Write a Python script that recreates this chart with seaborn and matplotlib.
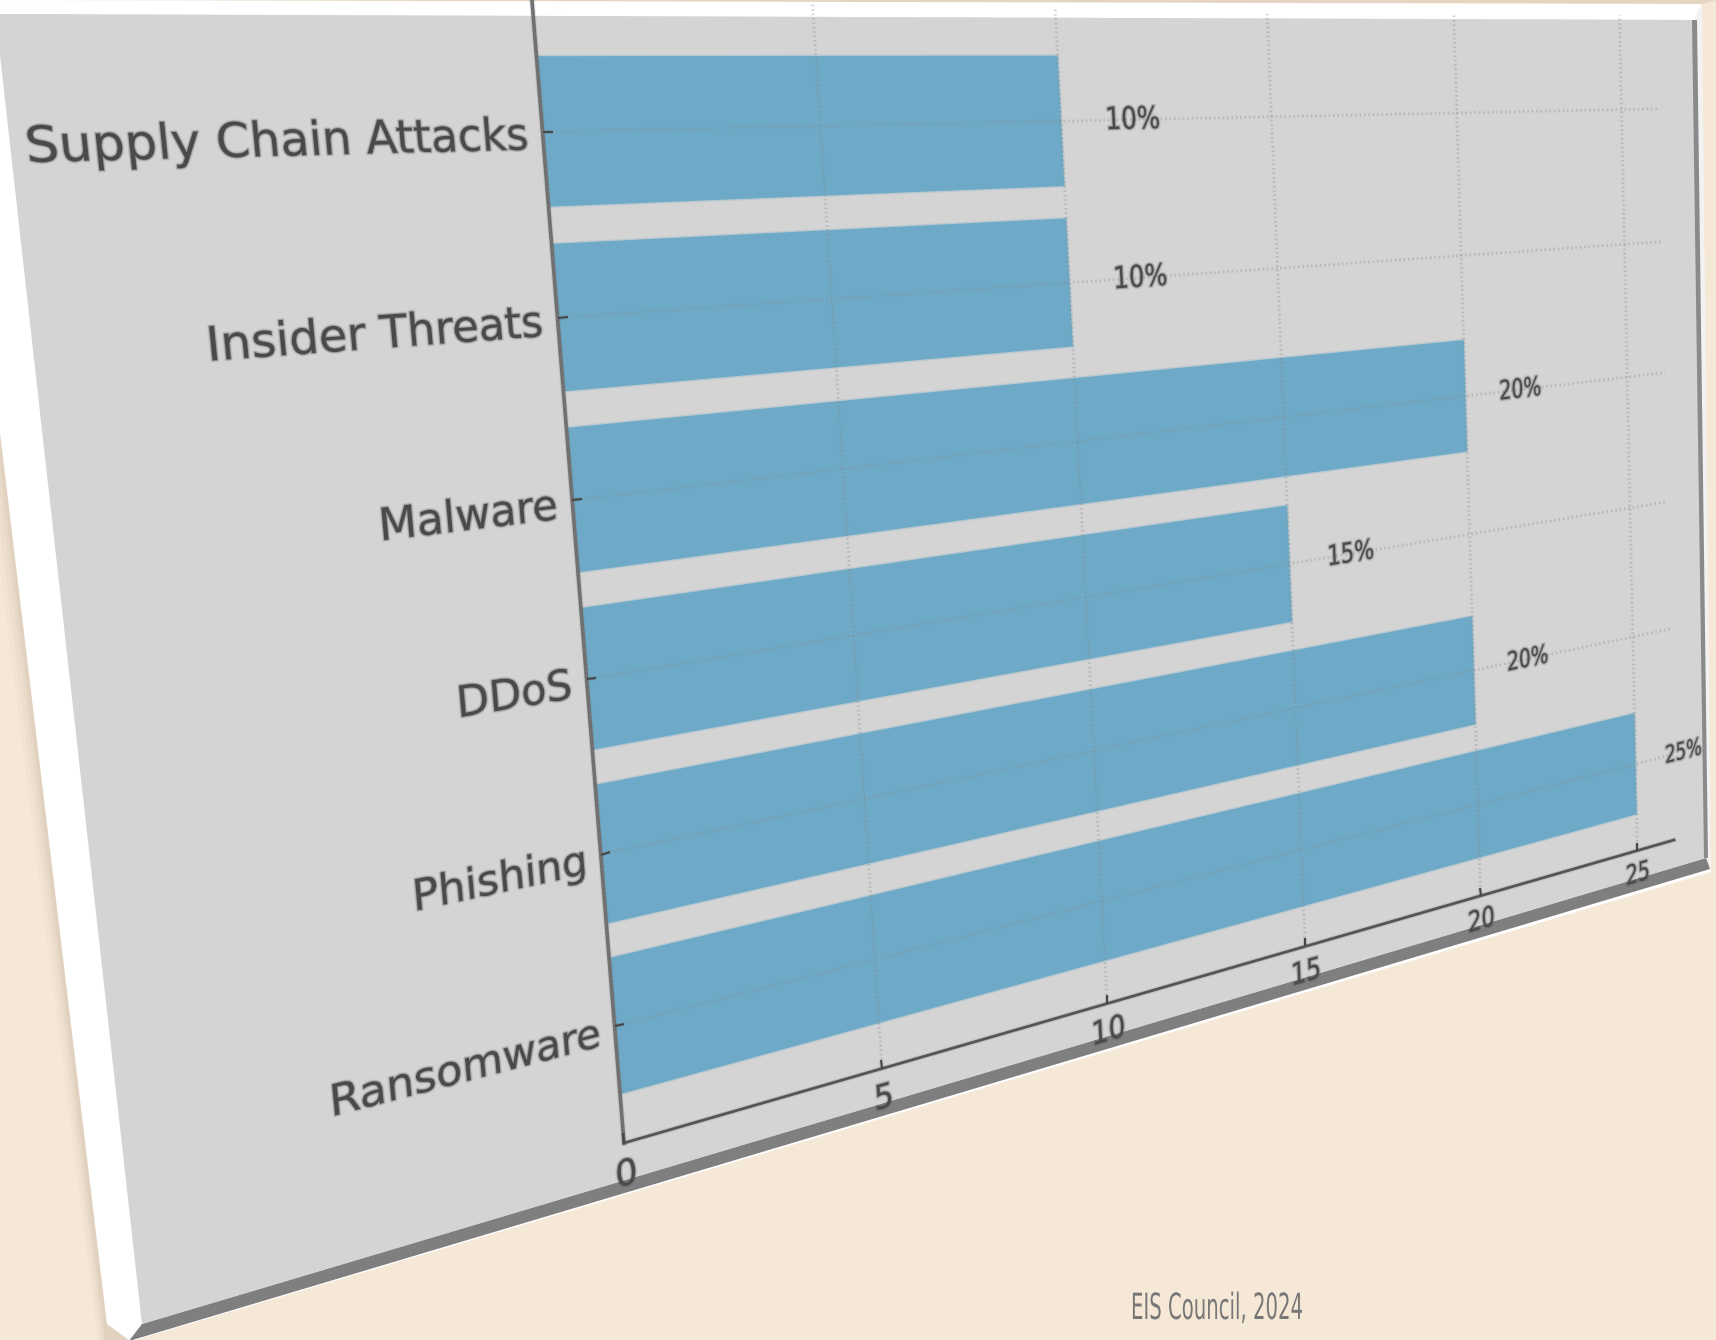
import numpy as np
import pandas as pd
import matplotlib
matplotlib.use("Agg")
import matplotlib.pyplot as plt
import seaborn as sns
from matplotlib.lines import Line2D
from matplotlib.patches import Patch, Polygon
from matplotlib.patheffects import AbstractPathEffect
from matplotlib.path import Path
from matplotlib.text import Text
from matplotlib.transforms import IdentityTransform

# chart values
categories = ["Ransomware", "Phishing", "DDoS", "Malware", "Insider Threats", "Supply Chain Attacks"]
percentages = [25, 20, 15, 20, 10, 10]
x_ticks = [0, 5, 10, 15, 20, 25]
source_note = "EIS Council, 2024"

W, H = 1716, 1340
BG = "#F5E8D6"
FACE = "#D4D4D4"
BAR = "#6EAAC7"

# flat axes box in pixels (y up)
AX_L, AX_R, AX_B, AX_T = 600, 1460, 350, 970
# where the corners of the axes land in the reference (x, y down)
AX_DST = [(624, 1143), (1674, 840), (1658, 16), (532, 1)]


def homography(src, dst):
    rows, rhs = [], []
    for (x, y), (u, v) in zip(src, dst):
        rows.append([x, y, 1, 0, 0, 0, -u * x, -u * y])
        rows.append([0, 0, 0, x, y, 1, -v * x, -v * y])
        rhs += [u, v]
    return np.append(np.linalg.solve(np.array(rows, float), np.array(rhs, float)), 1).reshape(3, 3)


M = homography(
    [(AX_L, AX_B), (AX_R, AX_B), (AX_R, AX_T), (AX_L, AX_T)],
    [(x, H - y) for x, y in AX_DST],
)


class Tilt(AbstractPathEffect):
    """Draws the artist through the perspective, with a soft edge like the blurred source."""

    def __init__(self, soft=()):
        super().__init__()
        self.soft = soft

    def draw_path(self, renderer, gc, tpath, affine, rgbFace=None):
        pts = affine.transform(tpath.vertices)
        p = M @ np.column_stack([pts, np.ones(len(pts))]).T
        warped = Path((p[:2] / p[2]).T, tpath.codes)
        gc0 = renderer.new_gc()
        gc0.copy_properties(gc)
        gc0.set_clip_rectangle(None)
        gc0.set_clip_path(None)
        for lw, a in self.soft:
            gc1 = renderer.new_gc()
            gc1.copy_properties(gc0)
            gc1.set_linewidth(gc.get_linewidth() + lw)
            gc1.set_alpha(a)
            if rgbFace is not None:
                gc1.set_foreground(rgbFace[:3])
            renderer.draw_path(gc1, warped, IdentityTransform(), None)
            gc1.restore()
        renderer.draw_path(gc0, warped, IdentityTransform(), rgbFace)
        gc0.restore()


class Narrow(AbstractPathEffect):
    """Condensed look for the source note; squeezes the glyphs from their left edge."""

    def __init__(self, factor):
        super().__init__()
        self.factor = factor

    def draw_path(self, renderer, gc, tpath, affine, rgbFace=None):
        pts = affine.transform(tpath.vertices)
        left = pts[:, 0].min()
        pts[:, 0] = left + (pts[:, 0] - left) * self.factor
        renderer.draw_path(gc, Path(pts, tpath.codes), IdentityTransform(), rgbFace)


sns.set_theme(style="white")
df = pd.DataFrame({"Threat": categories, "Share": percentages})

fig = plt.figure(figsize=(W / 100, H / 100), dpi=100, facecolor=BG)
ax = fig.add_axes([AX_L / W, AX_B / H, (AX_R - AX_L) / W, (AX_T - AX_B) / H])
sns.barplot(data=df, x="Share", y="Threat", color=BAR, saturation=1, width=0.8, ax=ax, zorder=2)

ax.set_xlim(0, 26.25)
ax.set_ylim(-0.69, 5.69)
ax.set_xticks(x_ticks)
ax.set_xlabel("")
ax.set_ylabel("")
ax.patch.set_visible(False)
ax.grid(True, linestyle=":", color="#888888", alpha=0.28, linewidth=1.2, zorder=3)
ax.set_axisbelow(False)
ax.tick_params(axis="both", left=True, bottom=True, direction="in", length=4, width=1.4,
               color="#444444", labelcolor="#4A4A4A", pad=6)
ax.tick_params(axis="y", labelsize=16.4)
ax.tick_params(axis="x", labelsize=15)
for name in ["top", "right"]:
    ax.spines[name].set_visible(False)
ax.spines["left"].set_color("#6E6E6E")
ax.spines["left"].set_linewidth(2.6)
ax.spines["bottom"].set_color("#555555")
ax.spines["bottom"].set_linewidth(2.0)

for i, v in enumerate(percentages):
    ax.text(v + 1, i, f"{v}%", va="center", ha="left", fontsize=13.5, color="#4A4A4A")

for a in ax.findobj(lambda o: isinstance(o, (Patch, Line2D, Text))):
    if isinstance(a, Text):
        a.set_path_effects([Tilt(soft=[(2.8, 0.12), (1.4, 0.3)])])
    elif a in ax.patches:
        a.set_edgecolor("none")
        a.set_path_effects([Tilt(soft=[(2.0, 0.25)])])
    else:
        a.set_path_effects([Tilt(soft=[(1.6, 0.15)])])


def plate(points, color, alpha=1, z=-5):
    fig.add_artist(Polygon([(x, H - y) for x, y in points], closed=True, facecolor=color,
                           edgecolor="none", alpha=alpha, transform=IdentityTransform(), zorder=z))


# soft shadow, then the tilted board
for off, a in [(46, 0.05), (32, 0.07), (20, 0.09), (10, 0.12)]:
    plate([(0, 432), (107, 1324), (129, 1340), (107 - off * 0.2, 1340), (0, 432 + off * 3)], "#B8A48C", a, -7)
plate([(0, 0), (1702, 4), (1716, 0)], "#D9C9B2", 0.6, -7)
plate([(0, 0), (1702, 4), (1694, 20), (0, 14)], "white")
plate([(0, 14), (142, 1324), (129, 1340), (107, 1324), (0, 432)], "white")
plate([(1702, 4), (1711, 868), (1706, 858), (1694, 20)], "#F2F2F2")
plate([(129, 1342), (1711, 872), (1711, 868), (129, 1340)], "white", z=-5)
plate([(142, 1324), (1706, 858), (1710, 869), (129, 1341)], "#7F7F7F", z=-4)
plate([(0, 14), (1694, 20), (1706, 858), (142, 1324), (0, 55)], FACE, z=-3)
plate([(1692, 20), (1697, 20), (1708, 858), (1704, 858)], "#8A8A8A", z=-2)

note = fig.text(1131 / W, 1 - 1309 / H, source_note, ha="left", va="center", fontsize=26, color="#777777")
note.set_path_effects([Narrow(0.545)])

fig.savefig("out.png", dpi=100, facecolor=BG)
